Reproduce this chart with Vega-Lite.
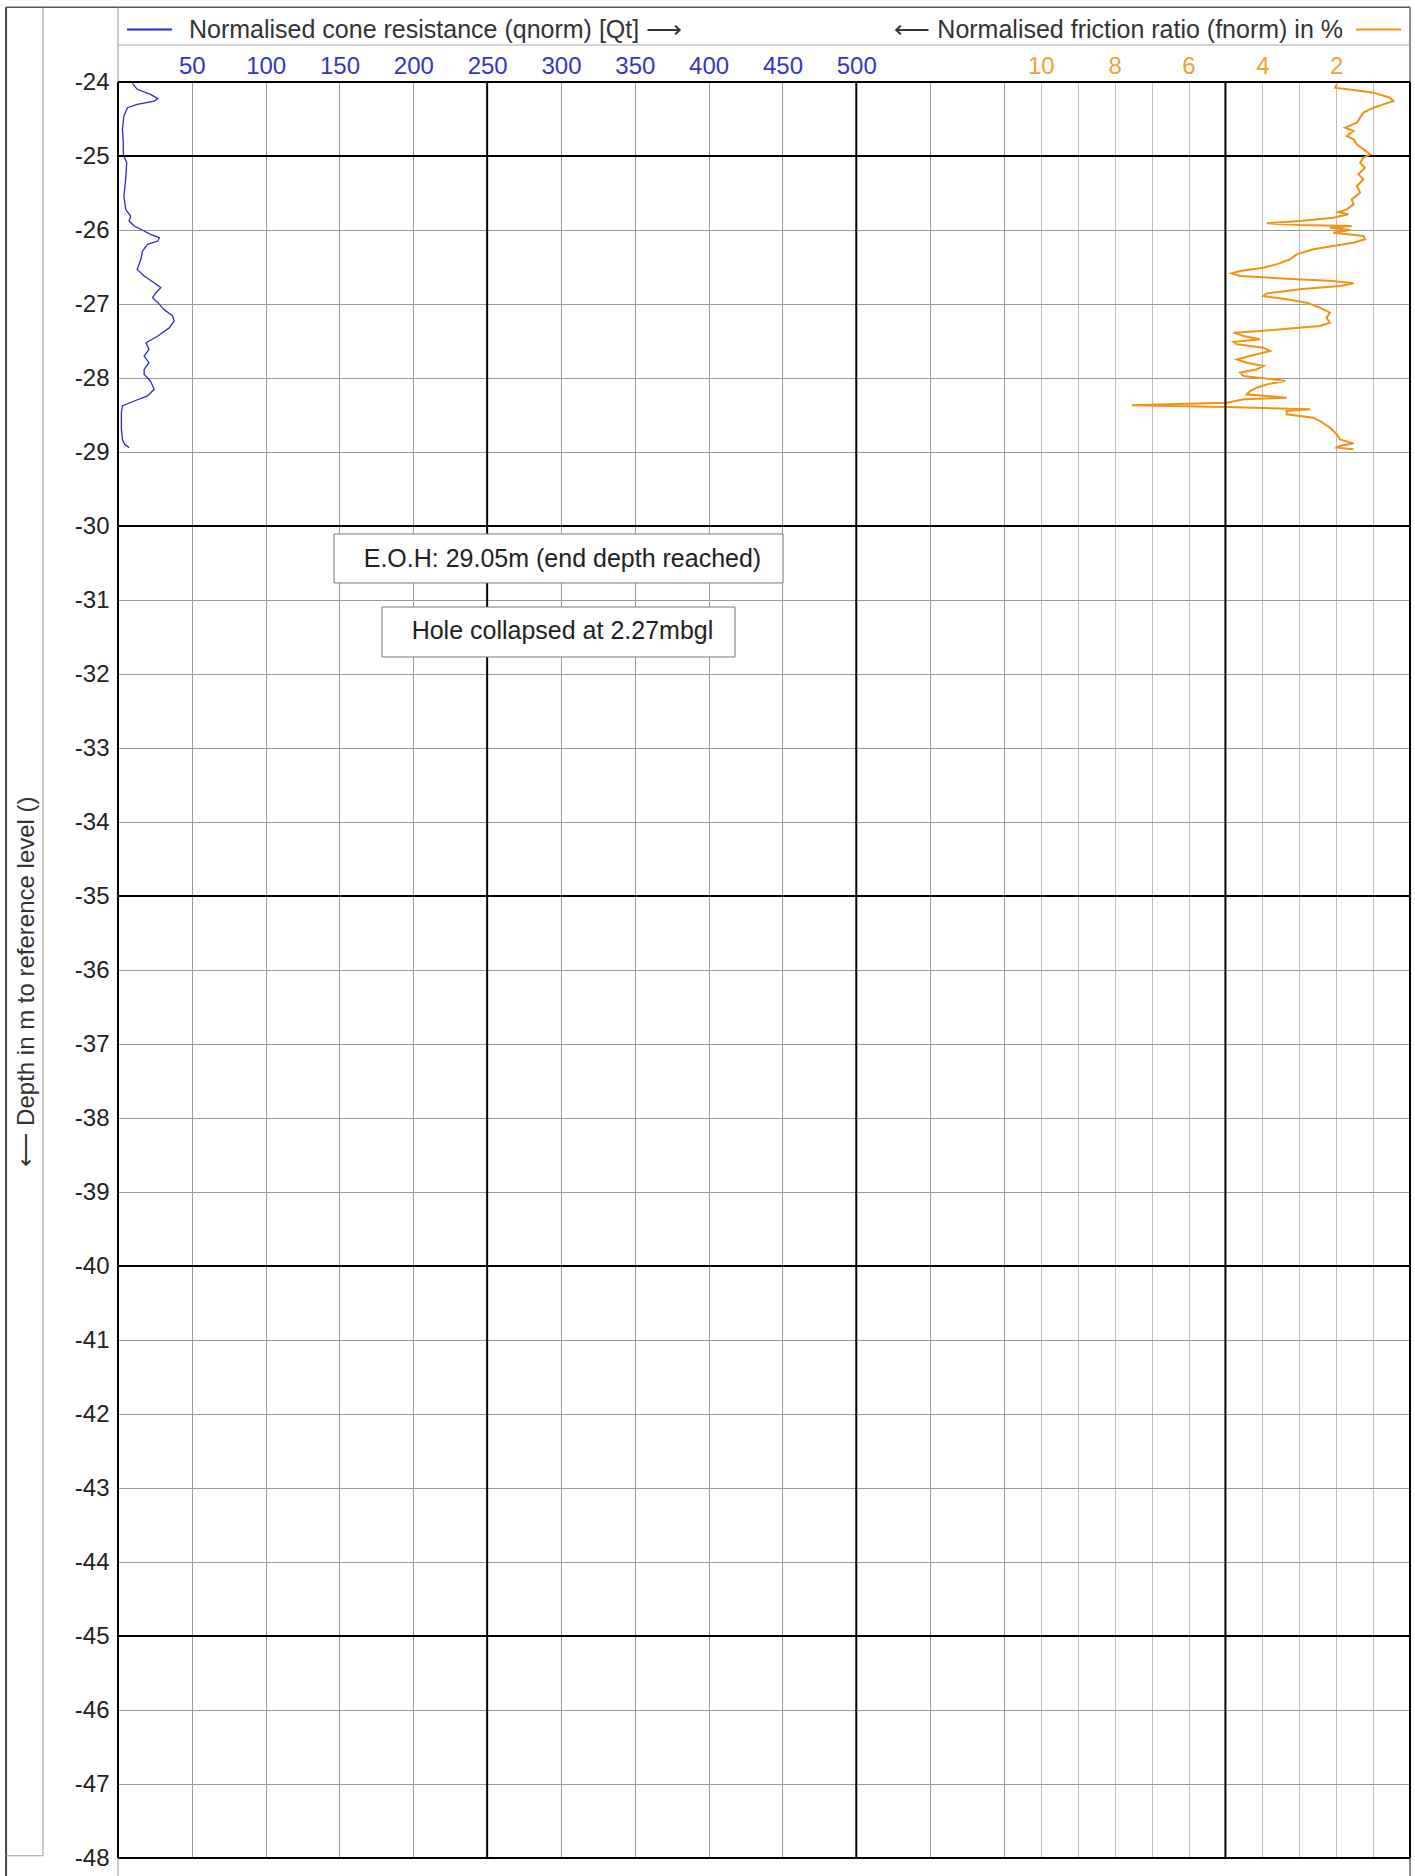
{
  "$schema": "https://vega.github.io/schema/vega-lite/v6.json",
  "width": 1292,
  "height": 1776,
  "autosize": {"type": "none"},
  "padding": {"left": 118, "top": 82, "right": 5, "bottom": 18},
  "background": "#ffffff",
  "config": {"font": "Liberation Sans", "view": {"stroke": null}},
  "datasets": {
    "qnorm": [
      {"depth": -24.018, "qnorm": 9.8}, {"depth": -24.099, "qnorm": 13}, {"depth": -24.167, "qnorm": 22},
      {"depth": -24.225, "qnorm": 27}, {"depth": -24.257, "qnorm": 24.5}, {"depth": -24.302, "qnorm": 13},
      {"depth": -24.347, "qnorm": 6.4}, {"depth": -24.459, "qnorm": 4}, {"depth": -24.64, "qnorm": 3},
      {"depth": -24.82, "qnorm": 3.6}, {"depth": -24.977, "qnorm": 3.6}, {"depth": -25.09, "qnorm": 5.9},
      {"depth": -25.315, "qnorm": 5.2}, {"depth": -25.541, "qnorm": 4}, {"depth": -25.721, "qnorm": 5.2},
      {"depth": -25.811, "qnorm": 8.6}, {"depth": -25.878, "qnorm": 7.5}, {"depth": -25.946, "qnorm": 11},
      {"depth": -26.014, "qnorm": 17.7}, {"depth": -26.059, "qnorm": 22}, {"depth": -26.104, "qnorm": 28},
      {"depth": -26.149, "qnorm": 27}, {"depth": -26.194, "qnorm": 20}, {"depth": -26.284, "qnorm": 16.6},
      {"depth": -26.396, "qnorm": 15.5}, {"depth": -26.532, "qnorm": 13}, {"depth": -26.622, "qnorm": 17.7},
      {"depth": -26.712, "qnorm": 24.5}, {"depth": -26.779, "qnorm": 29}, {"depth": -26.847, "qnorm": 25.7},
      {"depth": -26.914, "qnorm": 23.4}, {"depth": -26.982, "qnorm": 27}, {"depth": -27.072, "qnorm": 31},
      {"depth": -27.162, "qnorm": 37}, {"depth": -27.23, "qnorm": 38}, {"depth": -27.32, "qnorm": 34.8},
      {"depth": -27.432, "qnorm": 27}, {"depth": -27.523, "qnorm": 19}, {"depth": -27.613, "qnorm": 21},
      {"depth": -27.703, "qnorm": 17.7}, {"depth": -27.793, "qnorm": 21}, {"depth": -27.883, "qnorm": 17.7},
      {"depth": -27.95, "qnorm": 17.7}, {"depth": -28.041, "qnorm": 22}, {"depth": -28.153, "qnorm": 24.5},
      {"depth": -28.243, "qnorm": 20}, {"depth": -28.311, "qnorm": 11}, {"depth": -28.378, "qnorm": 3},
      {"depth": -28.468, "qnorm": 2.3}, {"depth": -28.694, "qnorm": 2.3}, {"depth": -28.829, "qnorm": 3},
      {"depth": -28.896, "qnorm": 4.5}, {"depth": -28.941, "qnorm": 7.5}
    ],
    "fnorm": [
      {"depth": -24.032, "fnorm": 1.98}, {"depth": -24.077, "fnorm": 2.03}, {"depth": -24.108, "fnorm": 1.53},
      {"depth": -24.144, "fnorm": 0.99}, {"depth": -24.212, "fnorm": 0.54}, {"depth": -24.257, "fnorm": 0.45},
      {"depth": -24.302, "fnorm": 0.72}, {"depth": -24.347, "fnorm": 0.99}, {"depth": -24.414, "fnorm": 1.26},
      {"depth": -24.482, "fnorm": 1.35}, {"depth": -24.55, "fnorm": 1.44}, {"depth": -24.617, "fnorm": 1.76},
      {"depth": -24.662, "fnorm": 1.53}, {"depth": -24.73, "fnorm": 1.71}, {"depth": -24.775, "fnorm": 1.53},
      {"depth": -24.842, "fnorm": 1.44}, {"depth": -24.91, "fnorm": 1.26}, {"depth": -24.977, "fnorm": 1.08},
      {"depth": -25.023, "fnorm": 1.26}, {"depth": -25.09, "fnorm": 1.35}, {"depth": -25.158, "fnorm": 1.22},
      {"depth": -25.248, "fnorm": 1.4}, {"depth": -25.315, "fnorm": 1.26}, {"depth": -25.405, "fnorm": 1.44},
      {"depth": -25.495, "fnorm": 1.35}, {"depth": -25.586, "fnorm": 1.58}, {"depth": -25.653, "fnorm": 1.53},
      {"depth": -25.721, "fnorm": 1.71}, {"depth": -25.757, "fnorm": 1.94}, {"depth": -25.788, "fnorm": 1.67},
      {"depth": -25.833, "fnorm": 2.08}, {"depth": -25.878, "fnorm": 2.98}, {"depth": -25.91, "fnorm": 3.88},
      {"depth": -25.932, "fnorm": 2.98}, {"depth": -25.946, "fnorm": 1.58}, {"depth": -25.968, "fnorm": 2.17},
      {"depth": -26.0, "fnorm": 1.62}, {"depth": -26.036, "fnorm": 2.08}, {"depth": -26.081, "fnorm": 1.26},
      {"depth": -26.126, "fnorm": 1.22}, {"depth": -26.171, "fnorm": 1.53}, {"depth": -26.216, "fnorm": 2.08},
      {"depth": -26.261, "fnorm": 2.62}, {"depth": -26.329, "fnorm": 3.07}, {"depth": -26.396, "fnorm": 3.25},
      {"depth": -26.464, "fnorm": 3.61}, {"depth": -26.509, "fnorm": 3.97}, {"depth": -26.554, "fnorm": 4.6},
      {"depth": -26.586, "fnorm": 4.83}, {"depth": -26.622, "fnorm": 4.6}, {"depth": -26.658, "fnorm": 3.34},
      {"depth": -26.689, "fnorm": 2.08}, {"depth": -26.721, "fnorm": 1.53}, {"depth": -26.757, "fnorm": 1.9},
      {"depth": -26.802, "fnorm": 2.98}, {"depth": -26.856, "fnorm": 3.88}, {"depth": -26.892, "fnorm": 3.97},
      {"depth": -26.937, "fnorm": 3.34}, {"depth": -26.982, "fnorm": 2.8}, {"depth": -27.05, "fnorm": 2.44},
      {"depth": -27.117, "fnorm": 2.17}, {"depth": -27.185, "fnorm": 2.26}, {"depth": -27.252, "fnorm": 2.17},
      {"depth": -27.297, "fnorm": 2.44}, {"depth": -27.333, "fnorm": 3.34}, {"depth": -27.365, "fnorm": 4.06},
      {"depth": -27.387, "fnorm": 4.78}, {"depth": -27.432, "fnorm": 4.51}, {"depth": -27.477, "fnorm": 4.06},
      {"depth": -27.514, "fnorm": 4.78}, {"depth": -27.545, "fnorm": 4.69}, {"depth": -27.59, "fnorm": 3.97},
      {"depth": -27.635, "fnorm": 3.79}, {"depth": -27.68, "fnorm": 4.15}, {"depth": -27.748, "fnorm": 4.69},
      {"depth": -27.793, "fnorm": 4.42}, {"depth": -27.838, "fnorm": 3.97}, {"depth": -27.883, "fnorm": 4.15},
      {"depth": -27.928, "fnorm": 4.6}, {"depth": -27.973, "fnorm": 4.51}, {"depth": -28.018, "fnorm": 3.7},
      {"depth": -28.041, "fnorm": 3.38}, {"depth": -28.086, "fnorm": 3.88}, {"depth": -28.131, "fnorm": 4.15},
      {"depth": -28.176, "fnorm": 4.33}, {"depth": -28.221, "fnorm": 4.42}, {"depth": -28.266, "fnorm": 3.34},
      {"depth": -28.288, "fnorm": 4.51}, {"depth": -28.333, "fnorm": 4.96}, {"depth": -28.369, "fnorm": 7.54},
      {"depth": -28.392, "fnorm": 4.96}, {"depth": -28.423, "fnorm": 2.71}, {"depth": -28.446, "fnorm": 3.34},
      {"depth": -28.491, "fnorm": 3.34}, {"depth": -28.536, "fnorm": 2.62}, {"depth": -28.581, "fnorm": 2.44},
      {"depth": -28.671, "fnorm": 2.17}, {"depth": -28.761, "fnorm": 1.98}, {"depth": -28.829, "fnorm": 1.9},
      {"depth": -28.883, "fnorm": 1.53}, {"depth": -28.919, "fnorm": 1.9}, {"depth": -28.941, "fnorm": 1.98},
      {"depth": -28.964, "fnorm": 1.53}
    ],
    "majorDepth": [{"depth": -24}, {"depth": -25}, {"depth": -30}, {"depth": -35}, {"depth": -40}, {"depth": -45}, {"depth": -48}],
    "majorQ": [{"qnorm": 0}, {"qnorm": 250}, {"qnorm": 500}, {"qnorm": 875}],
    "majorF": [{"fnorm": 5}],
    "notes": [
      {"label": "E.O.H: 29.05m (end depth reached)", "depth": -30.44, "qnorm": 301},
      {"label": "Hole collapsed at 2.27mbgl", "depth": -31.42, "qnorm": 301}
    ],
    "one": [{}]
  },
  "layer": [
    {
      "layer": [
        {
          "data": {"name": "qnorm"},
          "mark": {"type": "line", "strokeWidth": 1.3},
          "encoding": {
            "x": {
              "field": "qnorm", "type": "quantitative",
              "scale": {"domain": [0, 875], "nice": false, "zero": false},
              "axis": {
                "orient": "top", "values": [50, 100, 150, 200, 250, 300, 350, 400, 450, 500, 550, 600],
                "labelExpr": "datum.value <= 500 ? datum.label : ''",
                "grid": true, "gridColor": "#9a9a9a", "gridWidth": 1, "ticks": false, "domain": false,
                "labelFont": "Liberation Sans", "labelFontSize": 24, "labelColor": "#3434c8", "labelPadding": 4,
                "labelFlush": false, "labelOverlap": false, "labelBound": false, "title": null
              }
            },
            "y": {
              "field": "depth", "type": "quantitative",
              "scale": {"domain": [-48, -24], "nice": false, "zero": false},
              "axis": {
                "orient": "left",
                "values": [-24, -25, -26, -27, -28, -29, -30, -31, -32, -33, -34, -35, -36, -37, -38, -39, -40, -41, -42, -43, -44, -45, -46, -47, -48],
                "labelExpr": "'-' + abs(datum.value)",
                "grid": true, "gridColor": "#9a9a9a", "gridWidth": 1, "ticks": false, "domain": false,
                "labelFont": "Liberation Sans", "labelFontSize": 24, "labelColor": "#222222", "labelPadding": 9,
                "labelFlush": false, "labelOverlap": false, "labelBound": false,
                "title": "⟵ Depth in m to reference level ()",
                "titleFont": "Liberation Sans", "titleFontSize": 24, "titleFontWeight": "normal", "titleColor": "#333333",
                "titleAngle": 270, "titleX": -92, "titleY": 899, "titleAlign": "center", "titleBaseline": "middle"
              }
            },
            "order": {"field": "depth", "type": "quantitative", "sort": "descending"},
            "color": {
              "datum": "Normalised cone resistance (qnorm) [Qt]  ⟶",
              "scale": {"range": ["#2a2ad2"]},
              "legend": {
                "orient": "none", "legendX": 8, "legendY": -76, "title": null, "padding": 0,
                "symbolType": "stroke", "symbolSize": 2025, "symbolStrokeWidth": 2,
                "labelFont": "Liberation Sans", "labelFontSize": 25, "labelColor": "#333333",
                "labelOffset": 16, "labelLimit": 2000
              }
            }
          }
        },
        {
          "data": {"name": "one"},
          "mark": {"type": "rule", "color": "#555555", "strokeWidth": 1.5, "clip": false},
          "encoding": {
            "x": {"datum": -75.8, "type": "quantitative", "scale": {"domain": [0, 875], "nice": false, "zero": false}},
            "x2": {"datum": 875},
            "y": {"datum": -22.99, "type": "quantitative", "scale": {"domain": [-48, -24], "nice": false, "zero": false}}
          }
        },
        {
          "data": {"name": "one"},
          "mark": {"type": "rule", "color": "#444444", "strokeWidth": 2, "clip": false},
          "encoding": {
            "x": {"datum": -75.8, "type": "quantitative", "scale": {"domain": [0, 875], "nice": false, "zero": false}},
            "y": {"datum": -22.99, "type": "quantitative", "scale": {"domain": [-48, -24], "nice": false, "zero": false}},
            "y2": {"datum": -48.4}
          }
        },
        {
          "data": {"name": "one"},
          "mark": {"type": "rule", "color": "#999999", "strokeWidth": 1, "clip": false},
          "encoding": {
            "x": {"datum": -50.8, "type": "quantitative", "scale": {"domain": [0, 875], "nice": false, "zero": false}},
            "y": {"datum": -22.99, "type": "quantitative", "scale": {"domain": [-48, -24], "nice": false, "zero": false}},
            "y2": {"datum": -47.97}
          }
        },
        {
          "data": {"name": "one"},
          "mark": {"type": "rule", "color": "#999999", "strokeWidth": 1, "clip": false},
          "encoding": {
            "x": {"datum": -75.8, "type": "quantitative", "scale": {"domain": [0, 875], "nice": false, "zero": false}},
            "x2": {"datum": -50.8},
            "y": {"datum": -47.97, "type": "quantitative", "scale": {"domain": [-48, -24], "nice": false, "zero": false}}
          }
        },
        {
          "data": {"name": "one"},
          "mark": {"type": "rule", "color": "#999999", "strokeWidth": 1, "clip": false},
          "encoding": {
            "x": {"datum": 0, "type": "quantitative", "scale": {"domain": [0, 875], "nice": false, "zero": false}},
            "y": {"datum": -22.99, "type": "quantitative", "scale": {"domain": [-48, -24], "nice": false, "zero": false}},
            "y2": {"datum": -48.4}
          }
        },
        {
          "data": {"name": "one"},
          "mark": {"type": "rule", "color": "#666666", "strokeWidth": 1.5, "clip": false},
          "encoding": {
            "x": {"datum": 875, "type": "quantitative", "scale": {"domain": [0, 875], "nice": false, "zero": false}},
            "y": {"datum": -22.99, "type": "quantitative", "scale": {"domain": [-48, -24], "nice": false, "zero": false}},
            "y2": {"datum": -48.4}
          }
        },
        {
          "data": {"name": "one"},
          "mark": {"type": "rule", "color": "#aaaaaa", "strokeWidth": 1, "clip": false},
          "encoding": {
            "x": {"datum": 0, "type": "quantitative", "scale": {"domain": [0, 875], "nice": false, "zero": false}},
            "x2": {"datum": 875},
            "y": {"datum": -23.5, "type": "quantitative", "scale": {"domain": [-48, -24], "nice": false, "zero": false}}
          }
        },
        {
          "data": {"name": "majorDepth"},
          "mark": {"type": "rule", "color": "#000000", "strokeWidth": 2},
          "encoding": {
            "y": {"field": "depth", "type": "quantitative", "scale": {"domain": [-48, -24], "nice": false, "zero": false}}
          }
        },
        {
          "data": {"name": "majorQ"},
          "mark": {"type": "rule", "color": "#000000", "strokeWidth": 2},
          "encoding": {
            "x": {"field": "qnorm", "type": "quantitative", "scale": {"domain": [0, 875], "nice": false, "zero": false}}
          }
        },
        {
          "data": {"name": "one"},
          "mark": {"type": "rect", "fill": "#ffffff", "stroke": "#777777", "strokeWidth": 1},
          "encoding": {
            "x": {"datum": 146.3, "type": "quantitative", "scale": {"domain": [0, 875], "nice": false, "zero": false}},
            "x2": {"datum": 450.4},
            "y": {"datum": -30.108, "type": "quantitative", "scale": {"domain": [-48, -24], "nice": false, "zero": false}},
            "y2": {"datum": -30.77}
          }
        },
        {
          "data": {"name": "one"},
          "mark": {"type": "rect", "fill": "#ffffff", "stroke": "#777777", "strokeWidth": 1},
          "encoding": {
            "x": {"datum": 178.8, "type": "quantitative", "scale": {"domain": [0, 875], "nice": false, "zero": false}},
            "x2": {"datum": 417.9},
            "y": {"datum": -31.095, "type": "quantitative", "scale": {"domain": [-48, -24], "nice": false, "zero": false}},
            "y2": {"datum": -31.77}
          }
        },
        {
          "data": {"name": "notes"},
          "mark": {"type": "text", "font": "Liberation Sans", "fontSize": 25, "color": "#222222", "align": "center", "baseline": "middle"},
          "encoding": {
            "x": {"field": "qnorm", "type": "quantitative", "scale": {"domain": [0, 875], "nice": false, "zero": false}},
            "y": {"field": "depth", "type": "quantitative", "scale": {"domain": [-48, -24], "nice": false, "zero": false}},
            "text": {"field": "label", "type": "nominal"}
          }
        }
      ]
    },
    {
      "layer": [
        {
          "data": {"name": "fnorm"},
          "mark": {"type": "line", "strokeWidth": 2},
          "encoding": {
            "x": {
              "field": "fnorm", "type": "quantitative",
              "scale": {"domain": [0, 35], "reverse": true, "nice": false, "zero": false},
              "axis": {
                "orient": "top", "values": [1, 2, 3, 4, 5, 6, 7, 8, 9, 10],
                "labelExpr": "datum.value % 2 === 0 ? datum.label : ''",
                "grid": true, "gridColor": "#bdbdbd", "gridWidth": 1, "ticks": false, "domain": false,
                "labelFont": "Liberation Sans", "labelFontSize": 24, "labelColor": "#f2a033", "labelPadding": 4,
                "labelFlush": false, "labelOverlap": false, "labelBound": false, "title": null
              }
            },
            "y": {"field": "depth", "type": "quantitative", "scale": {"domain": [-48, -24], "nice": false, "zero": false}},
            "order": {"field": "depth", "type": "quantitative", "sort": "descending"},
            "color": {
              "datum": "⟵ Normalised friction ratio (fnorm) in %",
              "scale": {"range": ["#f39212"]},
              "legend": {
                "orient": "none", "legendX": 1237, "legendY": -76, "title": null, "padding": 0,
                "symbolType": "stroke", "symbolSize": 2025, "symbolStrokeWidth": 2,
                "labelFont": "Liberation Sans", "labelFontSize": 25, "labelColor": "#333333",
                "labelAlign": "right", "labelOffset": -59, "labelLimit": 2000
              }
            }
          }
        },
        {
          "data": {"name": "majorF"},
          "mark": {"type": "rule", "color": "#000000", "strokeWidth": 2},
          "encoding": {
            "x": {"field": "fnorm", "type": "quantitative", "scale": {"domain": [0, 35], "reverse": true, "nice": false, "zero": false}}
          }
        }
      ]
    }
  ],
  "resolve": {"scale": {"x": "independent", "color": "independent"}}
}
